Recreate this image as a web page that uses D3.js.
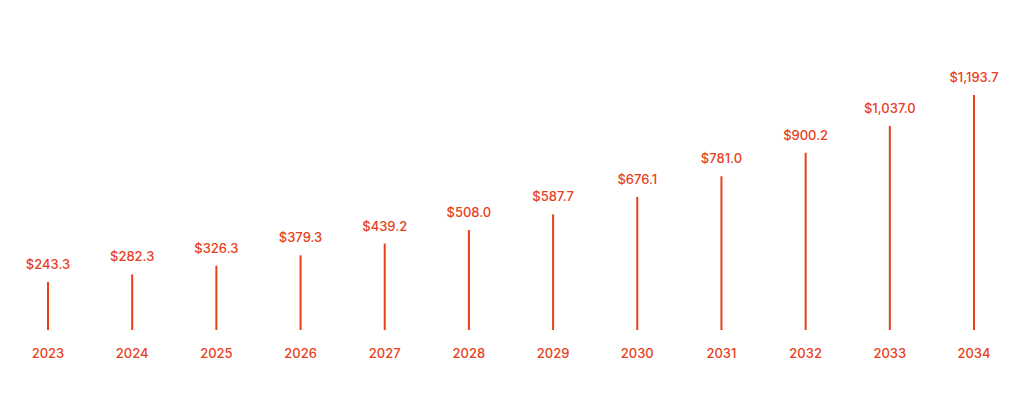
<!DOCTYPE html>
<html><head><meta charset="utf-8">
<script src="https://cdn.jsdelivr.net/npm/d3@7"></script>
<style>body{margin:0;background:#fff}text{font-family:Inter,"Open Sans",sans-serif;font-weight:500}</style>
</head><body><svg id="c" width="1024" height="400"></svg>
<script>
const years = ["2023","2024","2025","2026","2027","2028","2029","2030","2031","2032","2033","2034"];
const values = [243.3,282.3,326.3,379.3,439.2,508.0,587.7,676.1,781.0,900.2,1037.0,1193.7];
const color = "#e8401c";
const svg = d3.select("#c");
const x = d3.scalePoint().domain(years).range([48,974]);
const y = d3.scaleLinear().domain([0,1193.7]).range([330,95]);
const fmt = v => "$" + d3.format(",.1f")(v);
const g = svg.selectAll("g.s").data(years).enter().append("g");
g.append("line").attr("x1",d=>x(d)).attr("x2",d=>x(d)).attr("y1",y(0))
 .attr("y2",(d,i)=>y(values[i])).attr("stroke",color).attr("stroke-width",2);
g.append("text").attr("x",d=>x(d)).attr("y",(d,i)=>y(values[i])-13).attr("text-anchor","middle")
 .attr("fill",color).attr("font-size",13).text((d,i)=>fmt(values[i]));
g.append("text").attr("x",d=>x(d)).attr("y",358).attr("text-anchor","middle")
 .attr("fill",color).attr("font-size",13).text(d=>d);
</script></body></html>
